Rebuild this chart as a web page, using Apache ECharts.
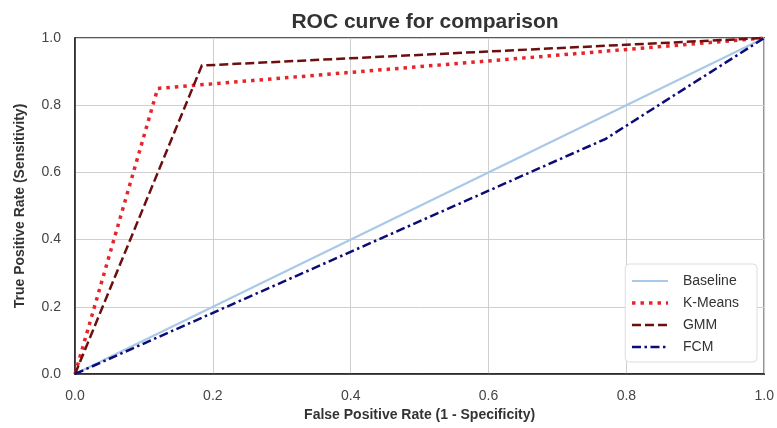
<!DOCTYPE html>
<html><head><meta charset="utf-8">
<script src="https://cdn.jsdelivr.net/npm/echarts@6/dist/echarts.min.js"></script>
<style>html,body{margin:0;padding:0;background:#fff}#c{width:777px;height:428px}</style>
</head><body><div id="c"></div>
<script>
const seriesNames = ['Baseline', 'K-Means', 'GMM', 'FCM'];
const baselinePts = [[0, 0], [1, 1]];
const kmeansPts = [[0, 0], [0.12, 0.85], [1, 1]];
const gmmPts = [[0, 0], [0.184, 0.918], [1, 1]];
const fcmPts = [[0, 0], [0.77, 0.70], [1, 1]];
const xTicks = [0, 0.2, 0.4, 0.6, 0.8, 1.0];
const yTicks = [0, 0.2, 0.4, 0.6, 0.8, 1.0];

const styles = {
  'Baseline': {color: '#a9c9e8', width: 2.2, type: 'solid'},
  'K-Means': {color: '#e8242b', width: 3.5, type: [3.5, 5]},
  'GMM': {color: '#6e0f0f', width: 2.5, type: [9, 4]},
  'FCM': {color: '#0c0c78', width: 2.5, type: [9, 3.5, 2.5, 3.5]}
};
const dataByName = {'Baseline': baselinePts, 'K-Means': kmeansPts, 'GMM': gmmPts, 'FCM': fcmPts};

const chart = echarts.init(document.getElementById('c'));
const fmt = v => v.toFixed(1);
const axisCommon = {
  min: 0, max: 1, interval: 0.2,
  axisLine: {show: true, lineStyle: {color: '#222', width: 1.5}},
  axisTick: {show: false},
  splitLine: {show: true, lineStyle: {color: '#cfcfcf', width: 1}},
  axisLabel: {color: '#444', fontSize: 14, fontFamily: 'Liberation Sans, Arial', formatter: fmt},
  nameLocation: 'middle',
  nameTextStyle: {color: '#333', fontSize: 14, fontWeight: 'bold', fontFamily: 'Liberation Sans, Arial'}
};
chart.setOption({
  animation: false,
  title: {text: 'ROC curve for comparison', left: 420, top: 7, textAlign: 'center',
    textStyle: {fontSize: 21, fontWeight: 'bold', color: '#333', fontFamily: 'Liberation Sans, Arial'}},
  grid: {left: 75, right: 12, top: 38, bottom: 54, show: true, borderColor: '#222', borderWidth: 1.5},
  xAxis: Object.assign({}, axisCommon, {type: 'value', name: 'False Positive Rate (1 - Specificity)', nameGap: 33,
    axisLabel: Object.assign({}, axisCommon.axisLabel, {margin: 15})}),
  yAxis: Object.assign({}, axisCommon, {type: 'value', name: 'True Positive Rate (Sensitivity)', nameGap: 48,
    axisLabel: Object.assign({}, axisCommon.axisLabel, {margin: 14})}),
  legend: {
    data: seriesNames.map(n => ({name: n, lineStyle: {width: styles[n].width, type: styles[n].type, color: styles[n].color}})),
    orient: 'vertical', right: 20, bottom: 66,
    itemWidth: 36, itemHeight: 10, itemGap: 8,
    itemStyle: {opacity: 0},
    backgroundColor: '#fff', borderColor: '#ddd', borderWidth: 1, borderRadius: 4,
    padding: [10, 18, 8, 5],
    textStyle: {color: '#333', fontSize: 14, fontFamily: 'Liberation Sans, Arial', padding: [0, 0, 0, 10]}
  },
  series: seriesNames.map(n => ({
    name: n, type: 'line', data: dataByName[n], symbol: 'none', z: 3,
    lineStyle: {color: styles[n].color, width: styles[n].width, type: styles[n].type, cap: 'butt', join: 'miter'},
    itemStyle: {color: styles[n].color}
  }))
});
</script></body></html>
